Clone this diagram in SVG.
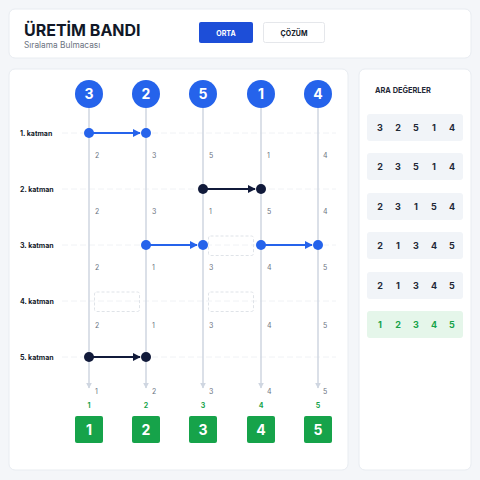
<svg xmlns="http://www.w3.org/2000/svg" width="480" height="480" viewBox="0 0 480 480">
<defs>
<style>
.card{fill:#ffffff;stroke:#e8ecf1;stroke-width:1}
.t{font-family:Inter,"Liberation Sans",Arial,sans-serif}
.lbl{font-family:Inter,"Liberation Sans",sans-serif;font-size:7px;font-weight:700;fill:#111827}
.num{font-family:Inter,"Liberation Sans",sans-serif;font-size:7px;fill:#6b7280}
.vline{stroke:#cfd6e1;stroke-width:1.5;fill:none}
.rline{stroke:#f0f2f5;stroke-width:1;stroke-dasharray:6 3}
.gap{fill:none;stroke:#dfe3e8;stroke-width:1;stroke-dasharray:3 2}
.blue{fill:#2563eb}
.dark{fill:#111a3a}
.cnum{font-family:Inter,"Liberation Sans",sans-serif;font-size:14px;font-weight:700;fill:#ffffff;text-anchor:middle}
.gl{font-family:Inter,"Liberation Sans",sans-serif;font-size:7px;font-weight:700;fill:#16a34a;text-anchor:middle}
.row{fill:#f1f4f8}
.rt{font-family:Inter,"Liberation Sans",sans-serif;font-size:9px;font-weight:700;fill:#1f2937;text-anchor:middle}
.rg{fill:#16a34a}
</style>
<marker id="ab" viewBox="0 0 10 10" refX="9" refY="5" markerWidth="4" markerHeight="4" orient="auto"><path d="M0,0 L10,5 L0,10 z" fill="#2563eb"/></marker>
<marker id="ad" viewBox="0 0 10 10" refX="9" refY="5" markerWidth="4" markerHeight="4" orient="auto"><path d="M0,0 L10,5 L0,10 z" fill="#111a3a"/></marker>
<marker id="ag" viewBox="0 0 10 10" refX="9" refY="5" markerWidth="4" markerHeight="4" orient="auto"><path d="M0,0 L10,5 L0,10 z" fill="#cfd6e1"/></marker>
</defs>
<rect width="480" height="480" fill="#f4f6f9"/>

<g id="header">
<rect class="card" x="9" y="9" width="462" height="49" rx="6"/>
<text class="t" x="24" y="36" font-size="16" font-weight="700" fill="#111827">ÜRETİM BANDI</text>
<text class="t" x="24" y="48" font-size="8.3" fill="#6b7280">Sıralama Bulmacası</text>
<g id="btn-orta"><rect x="199" y="22" width="54" height="21" rx="2" fill="#1d4ed8"/><text class="t" x="226" y="35.5" font-size="7" font-weight="700" fill="#ffffff" text-anchor="middle">ORTA</text></g>
<g id="btn-cozum"><rect x="263.5" y="22.5" width="61" height="20" rx="2" fill="#ffffff" stroke="#e5e7eb"/><text class="t" x="294" y="35.5" font-size="7" font-weight="700" fill="#111827" text-anchor="middle">ÇÖZÜM</text></g>
</g>

<rect class="card" x="9" y="69" width="339" height="401" rx="6"/>
<rect class="card" x="359" y="69" width="112" height="401" rx="6"/>

<g id="rows">
<line class="rline" x1="62" y1="133" x2="336" y2="133"/>
<line class="rline" x1="62" y1="189" x2="336" y2="189"/>
<line class="rline" x1="62" y1="245" x2="336" y2="245"/>
<line class="rline" x1="62" y1="301" x2="336" y2="301"/>
<line class="rline" x1="62" y1="357" x2="336" y2="357"/>
<text class="lbl" x="20" y="136">1. katman</text>
<text class="lbl" x="20" y="192">2. katman</text>
<text class="lbl" x="20" y="248">3. katman</text>
<text class="lbl" x="20" y="304">4. katman</text>
<text class="lbl" x="20" y="360">5. katman</text>
</g>

<g id="connectors">
<line class="vline" x1="89" y1="108" x2="89" y2="388" marker-end="url(#ag)"/>
<line class="vline" x1="146" y1="108" x2="146" y2="388" marker-end="url(#ag)"/>
<line class="vline" x1="203" y1="108" x2="203" y2="388" marker-end="url(#ag)"/>
<line class="vline" x1="261" y1="108" x2="261" y2="388" marker-end="url(#ag)"/>
<line class="vline" x1="318" y1="108" x2="318" y2="388" marker-end="url(#ag)"/>
<line x1="89" y1="133" x2="140" y2="133" stroke="#2563eb" stroke-width="2" marker-end="url(#ab)"/>
<line x1="203" y1="189" x2="255" y2="189" stroke="#111a3a" stroke-width="2" marker-end="url(#ad)"/>
<line x1="146" y1="245" x2="197" y2="245" stroke="#2563eb" stroke-width="2" marker-end="url(#ab)"/>
<line x1="261" y1="245" x2="312" y2="245" stroke="#2563eb" stroke-width="2" marker-end="url(#ab)"/>
<line x1="89" y1="357" x2="140" y2="357" stroke="#111a3a" stroke-width="2" marker-end="url(#ad)"/>
</g>

<g id="gaps">
<rect class="gap" x="208.5" y="236" width="45" height="19.5" rx="2"/>
<rect class="gap" x="94.5" y="292" width="45" height="19.5" rx="2"/>
<rect class="gap" x="208.5" y="292" width="45" height="19.5" rx="2"/>
</g>

<g id="inputs">
<g id="in1"><circle class="blue" cx="89" cy="94" r="14"/><text class="cnum" x="89" y="99">3</text></g>
<g id="in2"><circle class="blue" cx="146" cy="94" r="14"/><text class="cnum" x="146" y="99">2</text></g>
<g id="in3"><circle class="blue" cx="203" cy="94" r="14"/><text class="cnum" x="203" y="99">5</text></g>
<g id="in4"><circle class="blue" cx="261" cy="94" r="14"/><text class="cnum" x="261" y="99">1</text></g>
<g id="in5"><circle class="blue" cx="318" cy="94" r="14"/><text class="cnum" x="318" y="99">4</text></g>
</g>

<g id="dots">
<circle class="blue" cx="89" cy="133" r="5"/><circle class="blue" cx="146" cy="133" r="5"/>
<circle class="dark" cx="203" cy="189" r="5"/><circle class="dark" cx="261" cy="189" r="5"/>
<circle class="blue" cx="146" cy="245" r="5"/><circle class="blue" cx="203" cy="245" r="5"/>
<circle class="blue" cx="261" cy="245" r="5"/><circle class="blue" cx="318" cy="245" r="5"/>
<circle class="dark" cx="89" cy="357" r="5"/><circle class="dark" cx="146" cy="357" r="5"/>
</g>

<g id="values">
<text class="num" x="95" y="158">2</text><text class="num" x="152" y="158">3</text><text class="num" x="209" y="158">5</text><text class="num" x="267" y="158">1</text><text class="num" x="323" y="158">4</text>
<text class="num" x="95" y="214">2</text><text class="num" x="152" y="214">3</text><text class="num" x="209" y="214">1</text><text class="num" x="267" y="214">5</text><text class="num" x="323" y="214">4</text>
<text class="num" x="95" y="270">2</text><text class="num" x="152" y="270">1</text><text class="num" x="209" y="270">3</text><text class="num" x="267" y="270">4</text><text class="num" x="323" y="270">5</text>
<text class="num" x="95" y="328">2</text><text class="num" x="152" y="328">1</text><text class="num" x="209" y="328">3</text><text class="num" x="267" y="328">4</text><text class="num" x="323" y="328">5</text>
<text class="num" x="95" y="394">1</text><text class="num" x="152" y="394">2</text><text class="num" x="209" y="394">3</text><text class="num" x="267" y="394">4</text><text class="num" x="323" y="394">5</text>
</g>

<g id="outputs">
<text class="gl" x="89" y="408">1</text><text class="gl" x="146" y="408">2</text><text class="gl" x="203" y="408">3</text><text class="gl" x="261" y="408">4</text><text class="gl" x="318" y="408">5</text>
<g id="out1"><rect x="75" y="416" width="28" height="27" rx="2" fill="#16a34a"/><text class="cnum" x="89" y="434.5">1</text></g>
<g id="out2"><rect x="132" y="416" width="28" height="27" rx="2" fill="#16a34a"/><text class="cnum" x="146" y="434.5">2</text></g>
<g id="out3"><rect x="189" y="416" width="28" height="27" rx="2" fill="#16a34a"/><text class="cnum" x="203" y="434.5">3</text></g>
<g id="out4"><rect x="247" y="416" width="28" height="27" rx="2" fill="#16a34a"/><text class="cnum" x="261" y="434.5">4</text></g>
<g id="out5"><rect x="304" y="416" width="28" height="27" rx="2" fill="#16a34a"/><text class="cnum" x="318" y="434.5">5</text></g>
</g>

<g id="panel">
<text class="t" x="375" y="93" font-size="7.4" font-weight="700" fill="#1f2937">ARA DEĞERLER</text>
<g id="r1"><rect class="row" x="367" y="114" width="96" height="27" rx="3"/><text class="rt" x="380" y="130.5">3</text><text class="rt" x="398" y="130.5">2</text><text class="rt" x="416" y="130.5">5</text><text class="rt" x="434" y="130.5">1</text><text class="rt" x="452" y="130.5">4</text></g>
<g id="r2"><rect class="row" x="367" y="153" width="96" height="27" rx="3"/><text class="rt" x="380" y="169.5">2</text><text class="rt" x="398" y="169.5">3</text><text class="rt" x="416" y="169.5">5</text><text class="rt" x="434" y="169.5">1</text><text class="rt" x="452" y="169.5">4</text></g>
<g id="r3"><rect class="row" x="367" y="193" width="96" height="27" rx="3"/><text class="rt" x="380" y="209.5">2</text><text class="rt" x="398" y="209.5">3</text><text class="rt" x="416" y="209.5">1</text><text class="rt" x="434" y="209.5">5</text><text class="rt" x="452" y="209.5">4</text></g>
<g id="r4"><rect class="row" x="367" y="232" width="96" height="27" rx="3"/><text class="rt" x="380" y="248.5">2</text><text class="rt" x="398" y="248.5">1</text><text class="rt" x="416" y="248.5">3</text><text class="rt" x="434" y="248.5">4</text><text class="rt" x="452" y="248.5">5</text></g>
<g id="r5"><rect class="row" x="367" y="272" width="96" height="27" rx="3"/><text class="rt" x="380" y="288.5">2</text><text class="rt" x="398" y="288.5">1</text><text class="rt" x="416" y="288.5">3</text><text class="rt" x="434" y="288.5">4</text><text class="rt" x="452" y="288.5">5</text></g>
<g id="r6"><rect x="367" y="311" width="96" height="27" rx="3" fill="#e5f6ea"/><text class="rt rg" x="380" y="327.5">1</text><text class="rt rg" x="398" y="327.5">2</text><text class="rt rg" x="416" y="327.5">3</text><text class="rt rg" x="434" y="327.5">4</text><text class="rt rg" x="452" y="327.5">5</text></g>
</g>
</svg>
